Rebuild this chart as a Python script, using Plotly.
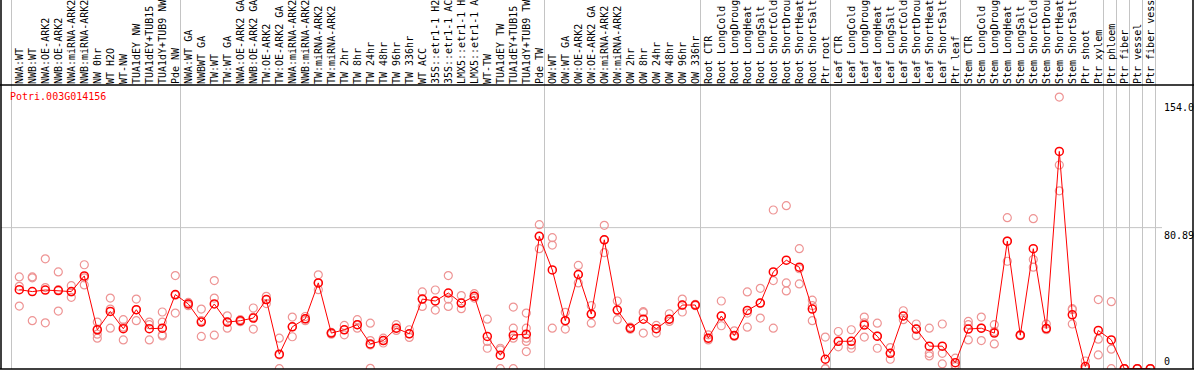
import plotly.graph_objects as go

labels = [
    "NWA:WT", "NWB:WT", "NWA:OE-ARK2", "NWB:OE-ARK2", "NWA:miRNA-ARK2", "NWB:miRNA-ARK2",
    "NW 0hr", "WT H2O", "WT-NW", "TUA1dEY NW", "TUA1dEY+TUB15", "TUA1dY+TUB9 NW", "Pde NW",
    "NWA:WT GA", "NWBWT GA", "TW:WT", "TW:WT GA", "NWA:OE-ARK2 GA", "NWB:OE-ARK2 GA",
    "TW:OE-ARK2", "TW:OE-ARK2 GA", "NWA:miRNA-ARK2", "NWB:miRNA-ARK2", "TW:miRNA-ARK2",
    "TW:miRNA-ARK2", "TW 2hr", "TW 8hr", "TW 24hr", "TW 48hr", "TW 96hr", "TW 336hr",
    "WT ACC", "35S::etr1-1 H2", "35S::etr1-1 AC", "LMX5::etr1-1 H", "LMX5::etr1-1 A",
    "WT-TW", "TUA1dEY TW", "TUA1dEY+TUB15", "TUA1dY+TUB9 TW", "Pde TW",
    "OW:WT", "OW:WT GA", "OW:OE-ARK2", "OW:OE-ARK2 GA", "OW:miRNA-ARK2", "OW:miRNA-ARK2",
    "OW 2hr", "OW 8hr", "OW 24hr", "OW 48hr", "OW 96hr", "OW 336hr",
    "Root CTR", "Root LongCold", "Root LongDroug", "Root LongHeat", "Root LongSalt",
    "Root ShortCold", "Root ShortDrou", "Root ShortHeat", "Root ShortSalt", "Ptr root",
    "Leaf CTR", "Leaf LongCold", "Leaf LongDroug", "Leaf LongHeat", "Leaf LongSalt",
    "Leaf ShortCold", "Leaf ShortDrou", "Leaf ShortHeat", "Leaf ShortSalt", "Ptr leaf",
    "Stem CTR", "Stem LongCold", "Stem LongDroug", "Stem LongHeat", "Stem LongSalt",
    "Stem ShortCold", "Stem ShortDrou", "Stem ShortHeat", "Stem ShortSalt", "Ptr shoot",
    "Ptr xylem", "Ptr phloem", "Ptr fiber", "Ptr vessel", "Ptr fiber vess",
]

means = [
    45.3, 44.2, 45.1, 44.8, 44.2, 53.2, 22.3, 32.8, 22.9, 33.8, 22.9, 23.2, 42.5,
    37.1, 26.7, 37.1, 26.7, 27.5, 29.0, 39.6, 8.3, 24.0, 28.6, 49.2, 20.4, 22.3, 25.2,
    14.2, 16.1, 23.2, 20.0, 39.9, 38.8, 43.4, 37.6, 41.5, 18.5, 7.7, 19.2, 19.8, 75.9,
    56.6, 27.5, 54.0, 31.3, 73.9, 33.6, 23.2, 28.4, 22.9, 28.4, 36.5, 36.5,
    17.5, 30.2, 19.0, 33.4, 37.6, 55.5, 62.2, 58.2, 34.2, 5.4,
    15.7, 15.7, 25.0, 18.6, 8.8, 30.2, 22.7, 12.9, 12.9, 3.4,
    22.7, 23.2, 20.4, 73.1, 19.2, 68.8, 23.0, 124.6, 30.9, 1.2, 21.9,
    16.5, 0.0, 0.0, 0.0,
]

replicates = [
    [52.6, 47.2, 35.9], [52.6, 52.1, 27.5], [63.0, 46.5, 26.3], [55.5, 45.3, 33.0],
    [47.6, 44.0, 40.9], [59.6, 52.1, 48.0], [26.7, 22.7, 19.8, 17.5], [40.5, 34.2, 23.2],
    [28.1, 23.8, 16.5], [39.9, 33.8, 27.5], [26.7, 25.2, 16.5], [32.5, 26.7, 19.4, 18.8],
    [53.4, 42.1, 31.9],
    [38.0, 37.1, 36.1], [34.2, 27.5, 18.5], [50.5, 40.5, 19.2], [30.3, 26.7, 23.2],
    [28.1, 27.5, 26.9], [34.8, 29.6, 22.7], [41.5, 39.6, 37.3], [17.5, 7.9, 0.0],
    [29.6, 24.0, 18.3], [29.9, 28.6, 27.5], [53.8, 49.2, 45.3], [20.8, 20.4, 19.8],
    [24.8, 22.3, 19.4], [28.1, 25.2, 23.2], [26.1, 16.1, 13.6, 0.2], [17.5, 16.1, 14.7],
    [25.2, 23.2, 21.9], [22.3, 20.0, 17.9], [44.0, 39.9, 35.7], [45.1, 38.8, 33.6],
    [53.4, 39.9, 35.7], [41.9, 37.6, 34.4], [43.0, 41.5, 40.5], [28.4, 15.6, 11.7],
    [11.7, 10.8, 0.0], [35.3, 23.2, 17.5, 0.0], [31.9, 23.2, 17.5, 15.6, 9.8],
    [82.6, 75.9, 68.8],
    [75.1, 70.9, 23.2], [32.3, 27.5, 22.7], [59.2, 54.0, 49.2], [36.1, 31.3, 26.1],
    [82.2, 73.9, 66.5], [38.8, 33.6, 28.1], [23.8, 23.2, 22.6], [32.7, 32.1, 20.4],
    [24.8, 22.9, 20.4], [31.5, 28.4, 27.1], [39.9, 36.5, 32.5], [36.9, 36.5, 36.1],
    [19.4, 17.5, 16.5], [38.8, 30.2, 24.6], [21.7, 19.0, 18.5], [44.0, 31.9, 23.8],
    [46.1, 37.6, 29.0], [91.0, 50.5, 23.2], [93.5, 49.2, 44.6], [68.8, 57.3, 48.6],
    [39.3, 36.1, 27.5], [18.1, 0.0, 0.0],
    [21.3, 15.7, 12.5], [22.3, 13.6, 11.7], [29.6, 26.3, 18.1], [26.1, 18.6, 11.7],
    [12.1, 8.8, 5.4], [33.2, 30.2, 28.1], [25.6, 22.7, 18.9], [23.2, 8.8, 7.3],
    [25.6, 8.8, 2.7], [6.0, 2.1, 1.2],
    [27.1, 25.2, 16.5], [29.6, 23.2, 16.1], [25.2, 21.3, 14.2], [86.6, 73.1, 61.6],
    [19.5, 19.2, 18.9], [86.0, 62.6, 58.2], [25.6, 23.0, 22.3], [155.8, 116.8, 102.0],
    [34.4, 33.8, 25.6], [4.4, 0.0, 0.0], [39.6, 16.9, 7.9],
    [38.4, 11.2, 0.0], [0.0, 0.0, 0.0], [0.0, 0.0, 0.0], [0.0, 0.0, 0.0],
]

group_sizes = [13, 28, 12, 10, 10, 11, 1, 1, 1, 1]
gene_name = "Potri.003G014156"
ytick_vals = [0, 80.89, 154.0]
ytick_text = ["0", "80.89", "154.0"]

# ---- layout geometry ----
W, H = 1194, 370
ML, MR, MT, MB = 1, 1, 85, 1
PW, PH = W - ML - MR, H - MT - MB
X0, X1 = -1.408, 90.285
Y0, Y1 = -0.2, 162.7
FONT = "DejaVu Sans Mono"


def xpaper_from_px(px):
    return (px - ML) / PW


def ypaper_from_px(py):
    return (H - MB - py) / PH


def xpaper_from_data(v):
    return (v - X0) / (X1 - X0)


xs = list(range(len(labels)))
rx, ry = [], []
for i, r in enumerate(replicates):
    rx += [i] * len(r)
    ry += r

fig = go.Figure()
fig.add_trace(go.Scatter(
    x=rx, y=ry, mode="markers",
    marker=dict(symbol="circle-open", size=8, color="#EE9494", line=dict(width=1.2)),
    hoverinfo="skip", showlegend=False,
))
fig.add_trace(go.Scatter(
    x=xs, y=means, mode="lines+markers",
    line=dict(color="#FF0000", width=1),
    marker=dict(symbol="circle-open", size=8, color="#FF0000", line=dict(width=1.5)),
    showlegend=False,
))

shapes = []
ytop = ypaper_from_px(0)
bounds = [-0.6]
c = 0
for g in group_sizes:
    c += g
    bounds.append(c - 1 + 0.4)
for b in bounds:
    xp = xpaper_from_data(b)
    shapes.append(dict(type="line", xref="paper", yref="paper", x0=xp, x1=xp, y0=0, y1=ytop,
                       line=dict(color="#C4C4C4", width=1), layer="below"))
shapes.append(dict(type="line", xref="paper", yref="y", x0=0, x1=xpaper_from_px(1162),
                   y0=ytick_vals[1], y1=ytick_vals[1], line=dict(color="#C4C4C4", width=1), layer="below"))
shapes.append(dict(type="line", xref="paper", yref="paper", x0=0, x1=0, y0=0, y1=ytop,
                   line=dict(color="black", width=1.5)))
shapes.append(dict(type="line", xref="paper", yref="paper", x0=1, x1=1, y0=0, y1=ytop,
                   line=dict(color="black", width=1.5)))
shapes.append(dict(type="line", xref="paper", yref="paper", x0=xpaper_from_px(0), x1=xpaper_from_px(W),
                   y0=1, y1=1, line=dict(color="black", width=1.5)))
shapes.append(dict(type="line", xref="paper", yref="paper", x0=xpaper_from_px(0), x1=xpaper_from_px(W),
                   y0=0, y1=0, line=dict(color="black", width=1.5)))

annotations = [
    dict(text=gene_name, xref="paper", yref="paper", x=xpaper_from_px(8), y=ypaper_from_px(96.5),
         xanchor="left", yanchor="middle", showarrow=False, font=dict(family=FONT, size=10, color="#FF0000")),
]
for v, t in zip(ytick_vals, ytick_text):
    annotations.append(dict(text=t, xref="paper", yref="y", x=xpaper_from_px(1162), y=v,
                            xanchor="left", yanchor="bottom" if v == 0 else "top", showarrow=False,
                            font=dict(family=FONT, size=10, color="black")))

fig.update_layout(
    width=W, height=H,
    margin=dict(l=ML, r=MR, t=MT, b=MB, pad=0),
    paper_bgcolor="white", plot_bgcolor="white",
    shapes=shapes, annotations=annotations,
    xaxis=dict(range=[X0, X1], side="top", tickmode="array", tickvals=xs, ticktext=labels,
               tickangle=-90, showgrid=False, zeroline=False, showline=False, ticks="",
               tickfont=dict(family=FONT, size=10, color="black"), automargin=False),
    yaxis=dict(range=[Y0, Y1], showgrid=False, zeroline=False, showticklabels=False,
               showline=False, ticks="", automargin=False),
    showlegend=False,
)

fig.write_html("out.html", config={"displayModeBar": False},
               post_script="document.body.style.margin='0';document.body.style.overflow='hidden';")
